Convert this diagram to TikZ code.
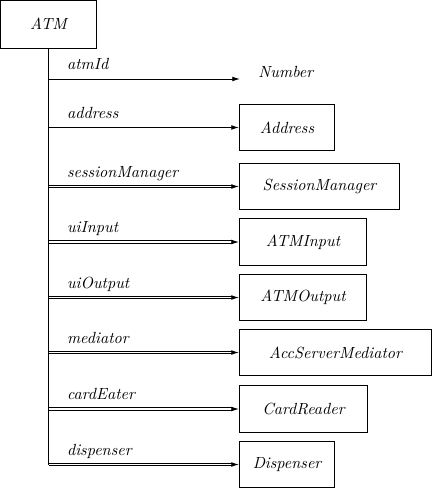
\documentclass[tikz,border=0pt]{standalone}
\usetikzlibrary{arrows.meta}
\begin{document}
\begin{tikzpicture}[x=0.62pt,y=-0.62pt,line width=0.6pt,font=\itshape,
	classbox/.style={draw,rectangle,minimum height=29.1pt,inner sep=0pt,anchor=west},
	role/.style={anchor=base west,inner sep=0pt,xshift=11.2pt,yshift=5.8pt},
	ref/.style={-{Latex[length=4.8pt,width=3pt]}},
	agg/.style={ref,double,double distance=1.2pt}]

	\useasboundingbox (0,0) rectangle (432,490);

	\node[draw,minimum width=59.8pt,minimum height=29.6pt,inner sep=0pt] (atm) at (48.5,24.2) {ATM};

	\begin{scope}[every node/.style={classbox}]
		\node[minimum width=58.9pt] (address) at (239,127.5) {Address};
		\node[minimum width=99.2pt] (session) at (239,186.5) {SessionManager};
		\node[minimum width=78.7pt] (input) at (239,242) {ATMInput};
		\node[minimum width=78.7pt] (output) at (239,297.5) {ATMOutput};
		\node[minimum width=119pt] (mediator) at (239,352.5) {AccServerMediator};
		\node[minimum width=79.4pt] (reader) at (239,409) {CardReader};
		\node[minimum width=58.9pt] (dispenser) at (239,464.5) {Dispenser};
	\end{scope}

	\node[anchor=base west,inner sep=0pt] (number) at (258,78) {Number};
	\coordinate (numberin) at (240,79);

	% the trunk and the attributes
	\draw (atm.south) -- (atm.south |- dispenser.west);
	\draw[ref] (atm.south |- numberin) -- (numberin) node[role,pos=0] {atmId};
	\foreach \cls/\name/\kind in {address/address/ref,session/sessionManager/agg,
		input/uiInput/agg,output/uiOutput/agg,mediator/mediator/agg,
		reader/cardEater/agg,dispenser/dispenser/agg}
		\draw[\kind] (atm.south |- \cls.west) -- (\cls.west) node[role,pos=0] {\name};

\end{tikzpicture}
\end{document}
